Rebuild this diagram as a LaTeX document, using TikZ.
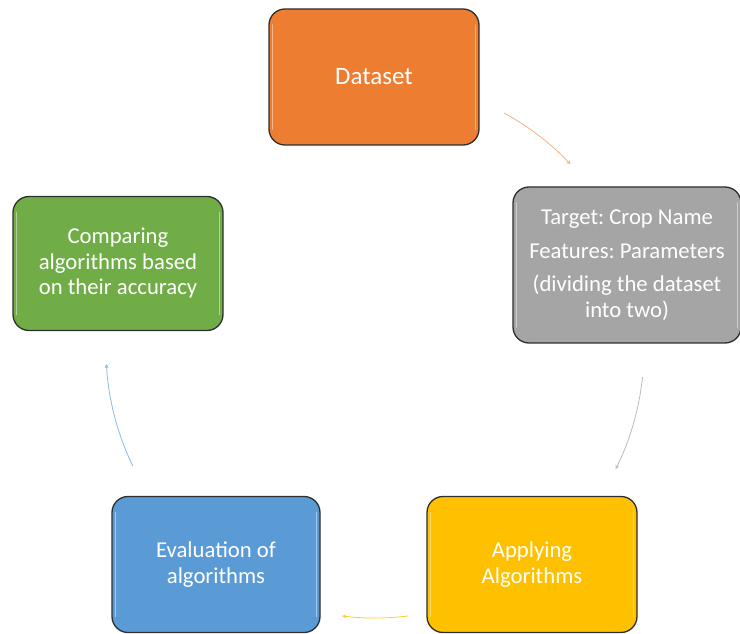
\documentclass[tikz,border=0pt]{standalone}
\usepackage{fontspec}
\setmainfont{Carlito}
\frenchspacing
\usetikzlibrary{arrows.meta}
\definecolor{cOrange}{HTML}{ED7D31}
\definecolor{cGray}{HTML}{A5A5A5}
\definecolor{cYellow}{HTML}{FFC000}
\definecolor{cBlue}{HTML}{5B9BD5}
\definecolor{cGreen}{HTML}{70AD47}
\definecolor{boxline}{HTML}{2E2E2E}
\begin{document}
\begin{tikzpicture}[x=1pt,y=1pt,
  box/.style={draw=boxline, line width=1.3pt, rounded corners=16pt, text=white,
    align=center, inner sep=0pt, font=\fontsize{22.7}{25.5}\selectfont,
    minimum width=210pt, minimum height=136pt,
    path picture={
      \draw[white, opacity=0.45, line width=1.6pt, line cap=round]
        ([xshift=3.5pt,yshift=-16pt]path picture bounding box.north west) --
        ([xshift=3.5pt,yshift=16pt]path picture bounding box.south west);
      \draw[white, opacity=0.45, line width=1.6pt, line cap=round]
        ([xshift=-3.5pt,yshift=-16pt]path picture bounding box.north east) --
        ([xshift=-3.5pt,yshift=16pt]path picture bounding box.south east);
    }},
  arr/.style={line width=0.8pt, -{Stealth[length=4pt,width=4pt]}}]
\useasboundingbox (0,0) rectangle (740,633);

\node[box, fill=cOrange, font=\fontsize{25}{28}\selectfont] (ds) at (374,556) {Dataset};
\node[box, fill=cGray, minimum width=228pt, minimum height=156pt] (tg) at (627,368)
  {Target: Crop Name\\[8pt]Features: Parameters\\[8pt](dividing the dataset\\into two)};
\node[box, fill=cYellow] (ap) at (532,68.5) {Applying\\Algorithms};
\node[box, fill=cBlue, minimum width=208pt] (ev) at (216,68.5) {Evaluation of\\algorithms};
\node[box, fill=cGreen, minimum height=134pt] (cp) at (118,369.5)
  {Comparing\\algorithms based\\on their accuracy};

\coordinate (cc) at (375,284);
\coordinate (s1) at ([shift={(61.3:269)}]cc);
\coordinate (s2) at ([shift={(-6:269)}]cc);
\coordinate (s3) at ([shift={(-83:269)}]cc);
\coordinate (s4) at ([shift={(205.8:269)}]cc);

\draw[arr, cOrange!60] (s1) arc[start angle=61.3, end angle=43.4, radius=269];
\draw[arr, cGray!75] (s2) arc[start angle=-6, end angle=-26.5, radius=269];
\draw[arr, cYellow!80] (s3) arc[start angle=-83, end angle=-97, radius=269];
\draw[arr, cBlue!70] (s4) arc[start angle=205.8, end angle=183.2, radius=269];
\end{tikzpicture}
\end{document}
